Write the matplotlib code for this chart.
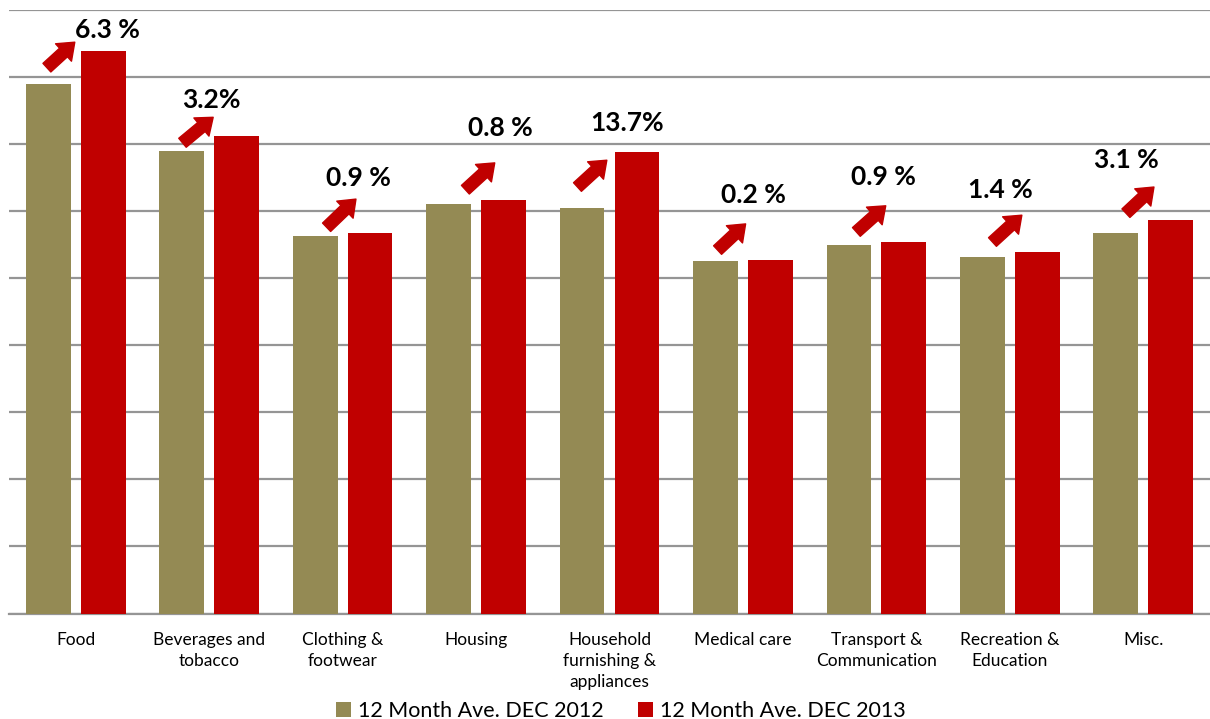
import matplotlib
matplotlib.use("Agg")
import matplotlib.pyplot as plt
import numpy as np

categories = ["Food", "Beverages and\ntobacco", "Clothing &\nfootwear", "Housing",
              "Household\nfurnishing &\nappliances", "Medical care", "Transport &\nCommunication",
              "Recreation &\nEducation", "Misc."]
dec_2012 = [7.89, 6.90, 5.63, 6.11, 6.05, 5.26, 5.50, 5.32, 5.68]
dec_2013 = [8.39, 7.12, 5.67, 6.16, 6.88, 5.27, 5.54, 5.39, 5.87]
change_labels = ["6.3 %", "3.2%", "0.9 %", "0.8 %", "13.7%", "0.2 %", "0.9 %", "1.4 %", "3.1 %"]
series_names = ["12 Month Ave. DEC 2012", "12 Month Ave. DEC 2013"]

# layout of the hand-placed arrows (offset from group centre, height)
arrow_tail = [(-0.216, 8.14), (-0.20, 7.02), (-0.12, 5.76), (-0.08, 6.32), (-0.24, 6.36),
              (-0.19, 5.42), (-0.15, 5.69), (-0.13, 5.54), (-0.13, 5.97)]
arrow_tip = [(-0.007, 8.52), (0.03, 7.40), (0.10, 6.18), (0.14, 6.72), (-0.02, 6.76),
             (0.02, 5.81), (0.07, 6.08), (0.09, 5.94), (0.08, 6.36)]
text_pos = [(0.24, 8.70), (0.02, 7.66), (0.12, 6.49), (0.18, 7.24), (0.13, 7.31),
            (0.08, 6.24), (0.05, 6.51), (-0.07, 6.32), (-0.13, 6.76)]

c2012 = "#948A54"
c2013 = "#C00000"
font = "Lato"

fig = plt.figure(figsize=(12.10, 7.19), dpi=100)
ax = fig.add_axes([9/1210, 1 - 613.5/719, 1 - 9/1210, (613.5 - 10)/719])

x = np.arange(len(categories))
w = 0.336
off = w/2 + 0.0375
ax.bar(x - off, dec_2012, w, color=c2012, label=series_names[0], zorder=3)
ax.bar(x + off, dec_2013, w, color=c2013, label=series_names[1], zorder=3)

ax.set_xlim(-0.5, len(categories) - 0.5)
ax.set_ylim(0, 9)
ax.set_yticks(np.arange(0, 10, 1))
ax.yaxis.grid(True, color="#959595", linewidth=1.6, zorder=0)
ax.set_yticklabels([])
ax.tick_params(axis="y", length=0)
for s in ["top", "right", "left"]:
    ax.spines[s].set_visible(False)
ax.spines["bottom"].set_color("#959595")
ax.spines["bottom"].set_linewidth(1.6)

ax.set_xticks(x)
ax.set_xticklabels(categories, fontsize=12.5, family=font, linespacing=1.4)
ax.tick_params(axis="x", length=0, pad=13)

for i in range(len(categories)):
    tx, ty = arrow_tail[i]
    hx, hy = arrow_tip[i]
    ax.annotate("", xy=(i + hx, hy), xytext=(i + tx, ty),
                arrowprops=dict(arrowstyle="simple,head_length=0.55,head_width=0.85,tail_width=0.42",
                                fc=c2013, ec=c2013, shrinkA=0, shrinkB=0, mutation_scale=20),
                zorder=5)
    px, py = text_pos[i]
    t = ax.text(i + px, py, change_labels[i], ha="center", va="center", fontsize=19,
                fontweight="bold", family=font, zorder=6)

fig.legend(loc="lower center", bbox_to_anchor=(0.513, -0.03), ncol=2, frameon=False,
           prop={"family": font, "size": 15.5}, handlelength=0.72, handleheight=0.72,
           handletextpad=0.3, columnspacing=1.6)

fig.savefig("out.png", dpi=100)
